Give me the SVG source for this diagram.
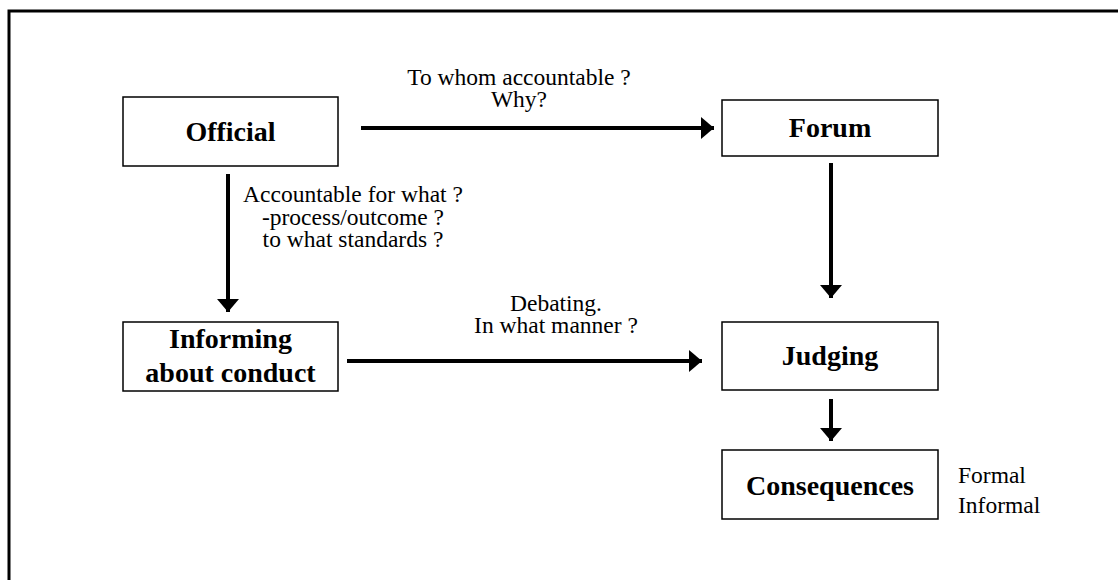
<svg xmlns="http://www.w3.org/2000/svg" width="1118" height="580" viewBox="0 0 1118 580">
<style>
.box{fill:#fff;stroke:#000;stroke-width:1.5}
.lbl{font-family:"Liberation Serif","Times New Roman",serif;font-weight:bold;font-size:28px;fill:#000;text-anchor:middle}
.t{font-family:"Liberation Serif","Times New Roman",serif;font-size:23.5px;fill:#000}
.c{text-anchor:middle}
.con{stroke:#000;stroke-width:4;fill:none}
</style>
<defs>
<marker id="ah" viewBox="0 0 13 22" refX="13" refY="11" markerWidth="3.25" markerHeight="5.5" markerUnits="strokeWidth" orient="auto">
<path d="M0,0 L13,11 L0,22 Z" fill="#000"/>
</marker>
</defs>
<rect x="9" y="11" width="1120" height="580" fill="none" stroke="#000" stroke-width="3"/>
<g id="official"><rect class="box" x="123" y="97" width="215" height="69"/><text class="lbl" x="230.5" y="141">Official</text></g>
<g id="forum"><rect class="box" x="722" y="100" width="216" height="56"/><text class="lbl" x="830" y="137">Forum</text></g>
<g id="informing"><rect class="box" x="123" y="322" width="215" height="69"/><text class="lbl" x="230.5" y="348">Informing</text><text class="lbl" x="230.5" y="382">about conduct</text></g>
<g id="judging"><rect class="box" x="722" y="322" width="216" height="68"/><text class="lbl" x="830" y="365">Judging</text></g>
<g id="consequences"><rect class="box" x="722" y="450" width="216" height="69"/><text class="lbl" x="830" y="495">Consequences</text></g>
<g id="connectors">
<line class="con" x1="361" y1="128" x2="714" y2="128" marker-end="url(#ah)"/>
<line class="con" x1="228" y1="174" x2="228" y2="312" marker-end="url(#ah)"/>
<line class="con" x1="831" y1="163" x2="831" y2="298" marker-end="url(#ah)"/>
<line class="con" x1="347" y1="361" x2="702" y2="361" marker-end="url(#ah)"/>
<line class="con" x1="831" y1="399" x2="831" y2="441" marker-end="url(#ah)"/>
</g>
<g id="labels">
<text class="t c" x="519" y="85">To whom accountable ?</text>
<text class="t c" x="519" y="107">Why?</text>
<text class="t c" x="353" y="202">Accountable for what ?</text>
<text class="t c" x="353" y="225">-process/outcome ?</text>
<text class="t c" x="353" y="247">to what standards ?</text>
<text class="t c" x="556" y="311">Debating.</text>
<text class="t c" x="556" y="333">In what manner ?</text>
<text class="t" x="958" y="483">Formal</text>
<text class="t" x="958" y="513">Informal</text>
</g>
</svg>
